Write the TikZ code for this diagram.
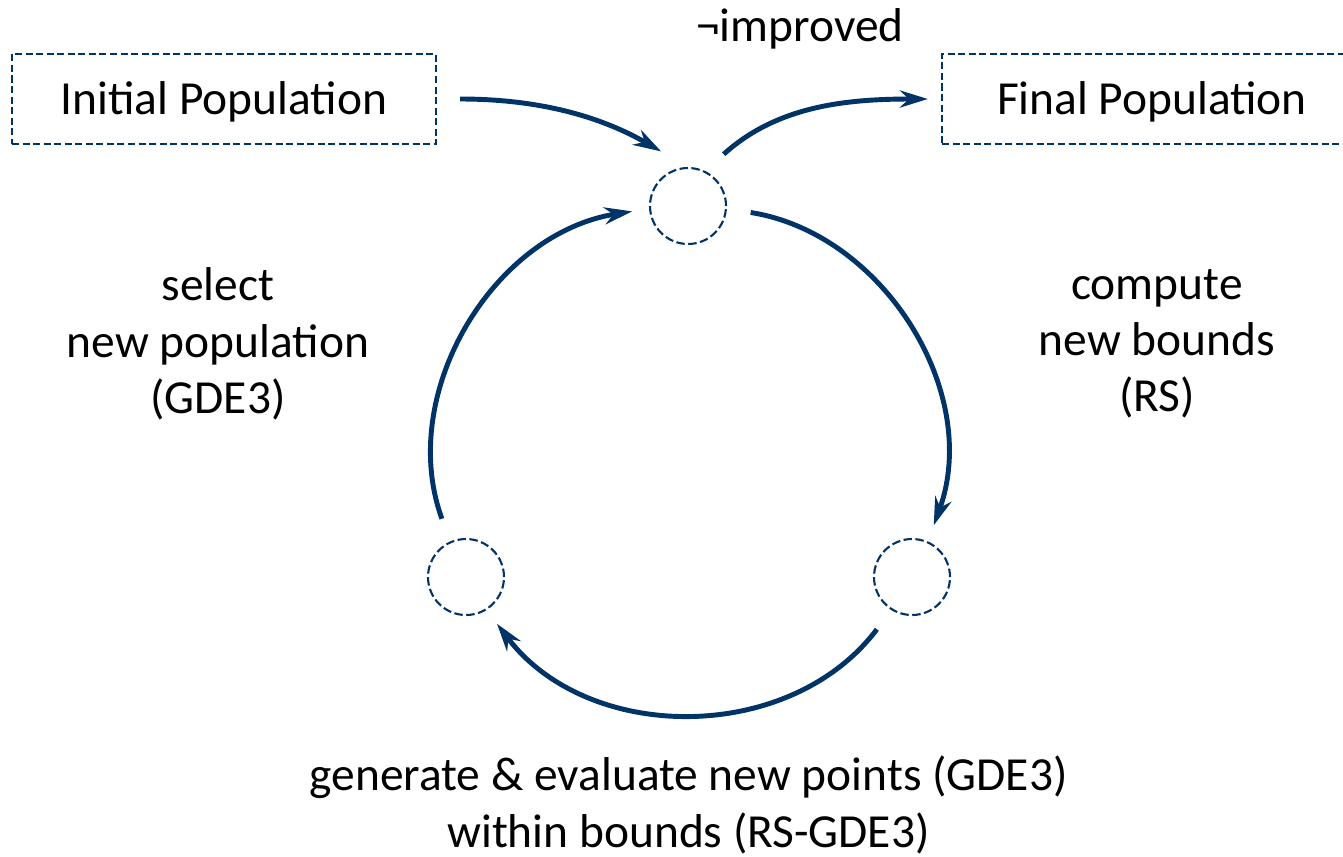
\documentclass[tikz,border=0pt]{standalone}
\usepackage{fontspec}
\setmainfont{Carlito}
\usetikzlibrary{arrows.meta}
\definecolor{navy}{RGB}{0,51,102}

\begin{document}
\begin{tikzpicture}[
    popbox/.style={draw=navy, line width=0.6pt, dash pattern=on 2pt off 1pt,
      minimum width=4.24cm, minimum height=0.9cm, inner sep=0pt,
      text height=0.41cm, text depth=0.1cm},
    stage/.style={circle, draw=navy, line width=0.6pt, dash pattern=on 2.4pt off 1pt,
      minimum size=0.76cm, inner sep=0pt},
    flow/.style={draw=navy, line width=1.4pt,
      -{Stealth[length=0.28cm, width=0.17cm, inset=0.09cm]},
      shorten <=0.24cm, shorten >=0.17cm},
    every node/.style={font=\fontsize{13.5}{16}\selectfont}
  ]
  \useasboundingbox (0,0) rectangle (13.43,8.56);
  % populations
  \node[popbox] (init) at (2.24,7.57) {Initial Population};
  \node[popbox, minimum width=4.2cm] (final) at (11.52,7.57) {Final Population};
  % stages of the loop
  \node[stage] (start) at (6.88,6.50) {};
  \node[stage] (bounds) at (9.12,2.79) {};
  \node[stage] (points) at (4.66,2.79) {};
  % labels
  \node (notimpr) at (8.00,8.27) {¬improved};
  \node[align=center] (select) at (2.18,5.12) {select\\new population\\(GDE3)};
  \node[align=center] (compute) at (11.57,5.12) {compute\\new bounds\\(RS)};
  \node[align=center] (generate) at (6.885,0.51) {generate \& evaluate new points (GDE3)\\within bounds (RS-GDE3)};
  % arrows
  \draw[flow, shorten <=0.23cm, shorten >=0.31cm] (init.east) to[out=0, in=150] (start.north);
  \draw[flow, shorten <=0.25cm, shorten >=0.13cm] (start.64) to[out=42, in=180] (final.west);
  \draw[flow] (start.-4) to[out=-9, in=70, looseness=1.04] (bounds.66);
  \draw[flow] (bounds.-122) to[out=-127, in=-53, looseness=1.065] (points.-58);
  \draw[flow] (points.114) to[out=110, in=189, looseness=1.04] (start.184);
\end{tikzpicture}
\end{document}
